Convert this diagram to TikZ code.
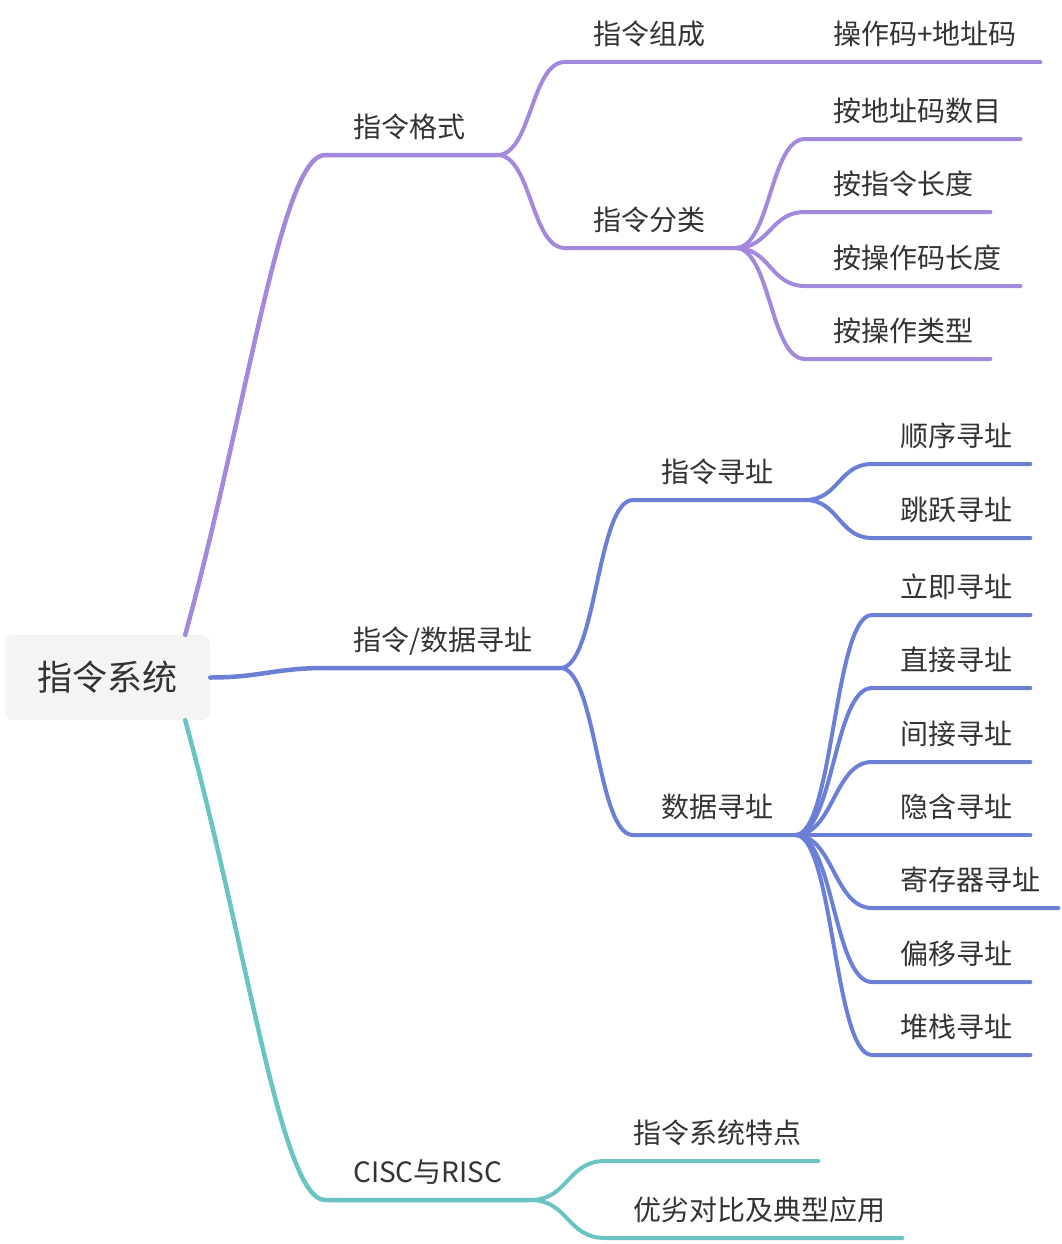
\documentclass[tikz,border=0pt]{standalone}
\usepackage{fontspec}
\newfontfamily\cjk{Noto Sans CJK SC}

\definecolor{purpleline}{HTML}{A389DD}
\definecolor{blueline}{HTML}{6B7FD7}
\definecolor{tealline}{HTML}{6AC5C2}
\definecolor{textgray}{HTML}{333333}
\definecolor{rootfill}{HTML}{F4F4F4}

\tikzset{
  rootbox/.style={rounded corners=8pt, fill=rootfill, minimum width=205pt, minimum height=85pt,
    font=\cjk\fontsize{35}{40}\selectfont, text=textgray},
  topic/.style={anchor=south west, inner xsep=0pt, inner ysep=0pt, text width=#1pt, align=left,
    text depth=17pt, font=\cjk\fontsize{28}{32}\selectfont, text=textgray,
    execute at begin node=\noindent\hspace*{28pt}},
  mainline/.style={line width=4.5pt, line cap=round},
  subline/.style={line width=4pt, line cap=round},
  branch/.style={to path={.. controls +(#1,0) and +(-#1,0) .. (\tikztotarget)}},
  branch/.default=34
}

\begin{document}
\begin{tikzpicture}[x=1pt,y=-1pt]
\useasboundingbox (0,0) rectangle (1062,1244);

% Root topic
\node[rootbox] (root) at (107.5,677.5) {指令系统};

% First level
\node[topic=172] (geshi) at (325,155) {指令格式};
\node[topic=235] (xunzhi) at (325,668) {指令/数据寻址};
\node[topic=205] (cisc) at (325,1200) {CISC与RISC};

\draw[mainline, purpleline] ([xshift=-25pt]root.north east) .. controls +(62,-225) and +(-44,0) .. (geshi.south west) -- (geshi.south east);
\draw[mainline, blueline] (root.east) .. controls +(50,0) and +(-50,0) .. (xunzhi.south west) -- (xunzhi.south east);
\draw[mainline, tealline] ([xshift=-25pt]root.south east) .. controls +(62,225) and +(-44,0) .. (cisc.south west) -- (cisc.south east);

% 指令格式
\node[topic=240] (zucheng) at (565,62) {指令组成};
\node[topic=235] (opaddr) at (805,62) {操作码+地址码};
\node[topic=170] (fenlei) at (565,248) {指令分类};
\node[topic=215] (addrnum) at (805,139) {按地址码数目};
\node[topic=185] (instlen) at (805,212) {按指令长度};
\node[topic=215] (oplen) at (805,286) {按操作码长度};
\node[topic=185] (optype) at (805,359) {按操作类型};

\draw[subline, purpleline] (geshi.south east) to[branch] (zucheng.south west) -- (zucheng.south east)
  -- (opaddr.south west) -- (opaddr.south east);
\draw[subline, purpleline] (geshi.south east) to[branch] (fenlei.south west) -- (fenlei.south east);
\draw[subline, purpleline] (fenlei.south east) to[branch=35] (addrnum.south west) -- (addrnum.south east);
\draw[subline, purpleline] (fenlei.south east) to[branch=35] (instlen.south west) -- (instlen.south east);
\draw[subline, purpleline] (fenlei.south east) to[branch=35] (oplen.south west) -- (oplen.south east);
\draw[subline, purpleline] (fenlei.south east) to[branch=35] (optype.south west) -- (optype.south east);

% 指令/数据寻址
\node[topic=172] (zhiling) at (633,500) {指令寻址};
\node[topic=162] (shuju) at (633,835) {数据寻址};
\node[topic=158] (shunxu) at (872,464) {顺序寻址};
\node[topic=158] (tiaoyue) at (872,538) {跳跃寻址};
\node[topic=158] (liji) at (872,615) {立即寻址};
\node[topic=158] (zhijie) at (872,688) {直接寻址};
\node[topic=158] (jianjie) at (872,762) {间接寻址};
\node[topic=158] (yinhan) at (872,835) {隐含寻址};
\node[topic=186] (jicunqi) at (872,908) {寄存器寻址};
\node[topic=158] (pianyi) at (872,982) {偏移寻址};
\node[topic=158] (duizhan) at (872,1055) {堆栈寻址};

\draw[subline, blueline] (xunzhi.south east) to[branch=36] (zhiling.south west) -- (zhiling.south east);
\draw[subline, blueline] (xunzhi.south east) to[branch=36] (shuju.south west) -- (shuju.south east);
\foreach \leaf in {shunxu, tiaoyue}
  \draw[subline, blueline] (zhiling.south east) to[branch=33] (\leaf.south west) -- (\leaf.south east);
\foreach \leaf in {liji, zhijie, jianjie, yinhan, jicunqi, pianyi, duizhan}
  \draw[subline, blueline] (shuju.south east) to[branch=38] (\leaf.south west) -- (\leaf.south east);

% CISC与RISC
\node[topic=213] (tedian) at (605,1161) {指令系统特点};
\node[topic=297] (duibi) at (605,1238) {优劣对比及典型应用};

\draw[subline, tealline] (cisc.south east) to[branch=38] (tedian.south west) -- (tedian.south east);
\draw[subline, tealline] (cisc.south east) to[branch=38] (duibi.south west) -- (duibi.south east);
\end{tikzpicture}
\end{document}
